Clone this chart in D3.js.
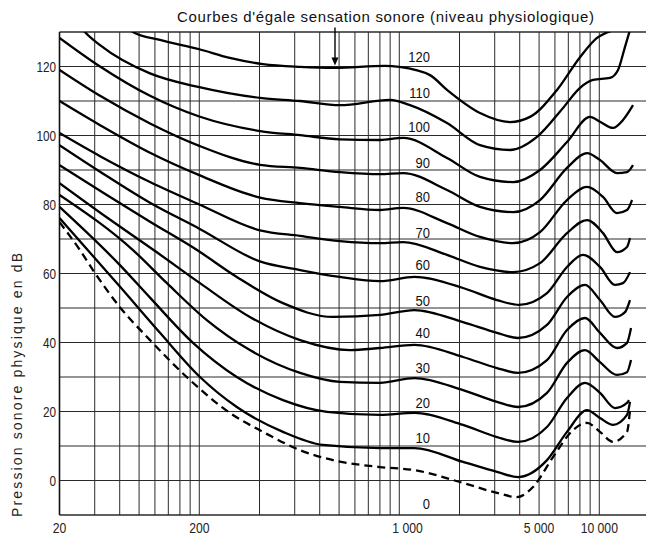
<!DOCTYPE html>
<html><head><meta charset="utf-8">
<script src="https://cdn.jsdelivr.net/npm/d3@7"></script>
<style>body{margin:0;background:#fff}svg{display:block}</style>
</head><body>
<svg id="chart" width="646" height="539"></svg>
<script>
// ---- data (frequency Hz, pressure dB) ----
const phonLevels = [120,110,100,90,80,70,60,50,40,30,20,10,0];
const curve120 = [[40,133],[46.6,130],[63.6,127.7],[100,125],[142,122.5],[208,120.7],[319,119.9],[475,119.6],[848,120.2],[1000,119.9],[1424,117.5],[1732,113.2],[2532,106.5],[3578,103.9],[4503,105.4],[6146,113.2],[8009,122.7],[9740,128.3],[11313,130.2],[12800,131]];
const curve110 = [[22.6,136],[26.8,130],[31.9,126.2],[56.7,118],[100,114],[201,110.9],[319,110],[505,108.8],[898,110.3],[1131,108.8],[1732,103.6],[2532,97.2],[3578,95.8],[4882,99.6],[6586,108],[8009,113.8],[9302,116.1],[11313,116.7],[12407,119],[13443,125.7],[14240,130.6]];
const curve100 = [[20,128.3],[31.9,120],[56.7,111.5],[100,105.5],[201,101.3],[319,100.1],[505,98.9],[801,98.7],[1044,99.3],[1732,93.5],[2532,88],[3702,86.5],[5054,90],[6895,98.1],[8988,105.4],[10080,104],[11712,102.2],[13137,104.5],[14744,108.8]];
const curve90 = [[20,119],[31.9,111.5],[56.7,103.5],[100,97],[201,91.5],[319,90.6],[505,89.4],[801,88.8],[1044,89.1],[1732,84.2],[2532,79.3],[3702,77.8],[5054,81.3],[6895,90.6],[8682,94.9],[10080,92.9],[12264,89.1],[13757,89.4],[14744,91.4]];
const curve80 = [[20,110],[31.9,103],[56.7,95],[100,88.5],[201,82],[319,80.4],[505,79.3],[801,78.4],[1044,79],[1732,74.6],[2532,70.6],[3702,68.8],[5054,72],[6895,81.3],[8682,85.1],[10436,82.2],[12264,77.5],[13757,78.4],[14576,81.3]];
const curve70 = [[20,100.7],[31.9,94],[56.7,86.5],[100,80],[201,72.5],[319,70.9],[505,69.4],[801,68.8],[1044,69.1],[1732,65.4],[2532,61.9],[3702,60.4],[5054,63],[6895,71.7],[8682,75.5],[10436,71.7],[12264,66.2],[13757,67.7],[14240,70.3]];
const curve60 = [[20,97.2],[31.9,89.5],[56.7,80.5],[100,73],[201,63.5],[319,61],[505,59],[801,57.8],[1190,59],[2082,55.8],[3080,52.3],[3970,50.9],[5476,54.3],[6895,61.9],[8290,65.4],[10080,61.9],[11985,56.7],[13137,57.2],[14240,60.4]];
const curve50 = [[20,91.4],[31.9,84],[56.7,75],[97.4,66.8],[154,59],[262,51.4],[466,47.4],[801,48],[1190,49.4],[2082,45.9],[3080,42.8],[3922,41.3],[5476,45.1],[6895,53.2],[8483,56.7],[10080,52.3],[11985,47.4],[13443,48.8],[14240,52.3]];
const curve40 = [[20,86.2],[35,76],[63.6,65.5],[100.8,57.2],[179,47.4],[319,40.7],[567,37.8],[801,38.4],[1190,39.3],[2082,35.8],[3080,32.6],[3922,31.2],[5476,34.9],[6895,43.6],[8483,47.1],[10080,42.8],[12264,38.4],[13757,39.9],[14408,44.2]];
const curve30 = [[20,82.8],[46.6,66.8],[68.9,57.2],[109,46.5],[179,37.8],[319,31.2],[505,28.6],[801,28.3],[1190,29.7],[2082,26.2],[3080,22.8],[3922,21.3],[5476,25.4],[6895,34.1],[8483,37.8],[10080,34.3],[12264,30.6],[13757,31.4],[14408,34.9]];
const curve20 = [[20,79.3],[40,62.5],[56.7,53],[93,39.9],[154,30],[262,23.3],[435,19.9],[801,19],[1190,19.6],[2082,16.1],[3080,12.6],[3922,11.2],[5476,15.5],[6895,23.9],[8483,28.3],[10080,25.4],[11985,21],[13757,22.5],[14078,23.3]];
const curve10 = [[20,76.1],[41.5,55.2],[63.6,42.8],[100.8,30],[154,21.3],[262,14.1],[415,10.3],[801,9.4],[1190,9.4],[2082,5.4],[3080,2.5],[3922,1],[5476,5.9],[6895,14.1],[8682,20.4],[10080,18.1],[11712,16.1],[13757,19],[14240,22.8]];
const curve0 = [[20,74.9],[25.3,66.8],[29.4,61],[40,50.3],[56.7,40.7],[89.9,29.1],[142,19.6],[208,14.1],[319,8.8],[466,5.9],[801,3.9],[1190,3],[2082,-0.7],[3080,-3.6],[3876,-4.8],[4663,-1.9],[5869,6.8],[7388,14.6],[8682,16.7],[10080,14.1],[11712,11.2],[13757,14.1],[14240,20.4]];
const curves = [curve120,curve110,curve100,curve90,curve80,curve70,curve60,curve50,curve40,curve30,curve20,curve10,curve0];

// curve label positions (freq, dB) — right-aligned
const labelFreq = 1424;
const labelDb = [123,112.6,102.5,92.3,82.2,72,62.5,52.3,42.8,32.9,22.5,12.6,-6.5];

const yTickValues = [0,20,40,60,80,100,120];
const xTickValues = [20,100,1100,5000,10000];
const xTickLabels = ["20","200","1 000","5 000","10 000"];
const titleText = "Courbes d'égale sensation sonore (niveau physiologique)";
const yTitle = "Pression sonore physique en dB";
const arrowFreq = 477, arrowFrom = 131.3, arrowTo = 120.3;

// ---- scales ----
const W = 646, H = 539;
const x = d3.scaleLog().domain([20,20000]).range([59.5,659.5]);
const y = d3.scaleLinear().domain([-10,130]).range([515,32]);
const xRight = W;

const svg = d3.select("#chart");
const font = "'Liberation Sans','Arial','Helvetica',sans-serif";

// grid
const gridFreqs = x.ticks().filter(f => f > 20 && f <= 10000);
svg.append("g").selectAll("line").data(gridFreqs).join("line")
  .attr("x1", d => x(d)).attr("x2", d => x(d))
  .attr("y1", y(130)).attr("y2", y(-10))
  .attr("stroke", "#2a2a2a").attr("stroke-width", 1);
svg.append("g").selectAll("line").data(d3.range(-10,131,10)).join("line")
  .attr("x1", x(20)).attr("x2", xRight)
  .attr("y1", d => y(d)).attr("y2", d => y(d))
  .attr("stroke", "#2a2a2a").attr("stroke-width", d => (d===-10||d===130)?1.4:1);
svg.append("line").attr("x1", x(20)).attr("x2", x(20)).attr("y1", y(130)).attr("y2", y(-10))
  .attr("stroke", "#111").attr("stroke-width", 1.6);

// clip
svg.append("clipPath").attr("id","clip").append("rect")
  .attr("x", x(20)).attr("y", y(130)).attr("width", xRight - x(20)).attr("height", y(-10)-y(130));

const line = d3.line().x(d => x(d[0])).y(d => y(d[1])).curve(d3.curveMonotoneX);
svg.append("g").attr("clip-path","url(#clip)").selectAll("path").data(curves).join("path")
  .attr("d", line).attr("fill","none").attr("stroke","#000")
  .attr("stroke-width", 2.3).attr("stroke-linejoin","round")
  .attr("stroke-dasharray", (d,i) => phonLevels[i]===0 ? "8,5" : null);

// condensed text helper
function narrow(sel, sx){ return sel.attr("transform", function(){ 
  const tx = +this.getAttribute("data-x"), ty = +this.getAttribute("data-y");
  return `translate(${tx},${ty}) scale(${sx},1)`; }); }

// curve labels
narrow(svg.append("g").selectAll("text").data(phonLevels).join("text")
  .attr("data-x", x(labelFreq)).attr("data-y", (d,i) => y(labelDb[i]))
  .attr("dy","0.36em").attr("text-anchor","end")
  .style("font-family", font).style("font-size","15.5px").attr("fill","#111")
  .text(d => d), 0.84);

// y tick labels
narrow(svg.append("g").selectAll("text").data(yTickValues).join("text")
  .attr("data-x", 56).attr("data-y", d => y(d)).attr("dy","0.36em").attr("text-anchor","end")
  .style("font-family", font).style("font-size","14px").attr("fill","#222")
  .text(d => d), 0.84);

// x tick labels
narrow(svg.append("g").selectAll("text").data(xTickValues).join("text")
  .attr("data-x", d => x(d)).attr("data-y", 533).attr("text-anchor","middle")
  .style("font-family", font).style("font-size","14.5px").attr("fill","#222")
  .text((d,i) => xTickLabels[i]), 0.84);

// title
svg.append("text").attr("x", 177).attr("y", 22)
  .attr("textLength", 417).attr("lengthAdjust","spacing")
  .style("font-family", font).style("font-size","15px").attr("fill","#111")
  .text(titleText);

// y title
svg.append("text").attr("transform","translate(22,517) rotate(-90)")
  .attr("textLength", 264).attr("lengthAdjust","spacing")
  .style("font-family", font).style("font-size","14px").attr("fill","#222")
  .text(yTitle);

// arrow
svg.append("line").attr("x1", x(arrowFreq)).attr("x2", x(arrowFreq))
  .attr("y1", y(arrowFrom)).attr("y2", y(arrowTo)-6)
  .attr("stroke","#000").attr("stroke-width",1.4);
svg.append("path")
  .attr("d", `M${x(arrowFreq)-3.5},${y(arrowTo)-8} L${x(arrowFreq)+3.5},${y(arrowTo)-8} L${x(arrowFreq)},${y(arrowTo)} Z`)
  .attr("fill","#000");
</script>
</body></html>
